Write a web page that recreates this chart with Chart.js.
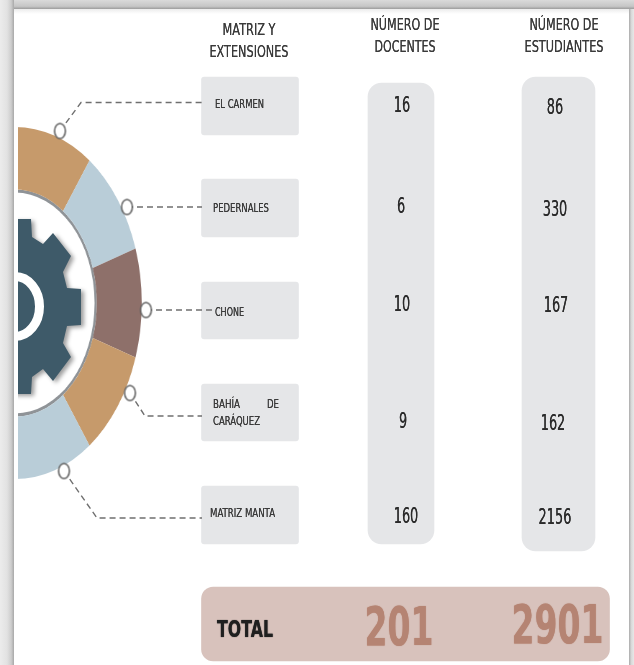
<!DOCTYPE html>
<html lang="es">
<head>
<meta charset="utf-8">
<title>Matriz y extensiones</title>
<script src="https://cdn.jsdelivr.net/npm/chart.js@4"></script>
<style>
  html, body { margin: 0; padding: 0; background: #fff; }
  #page { position: relative; width: 634px; height: 665px; overflow: hidden; background: #fff; }
  #ring { position: absolute; left: -165px; top: 123px; transform: scaleX(0.72); filter: blur(0.4px); z-index: 1; }
  #main { position: absolute; left: 0; top: 0; filter: blur(0.35px); z-index: 2; }
  .frame { position: absolute; z-index: 3; }
  #cover { left: 14px; top: 0; width: 4px; height: 665px; background: #fff; }
  #left { left: 0; top: 0; width: 14px; height: 665px; background: linear-gradient(to right, #ececec, #e2e2e2 50%, #cdcdcd 80%, #a8a8a8); }
  #top { left: 14px; top: 0; width: 620px; height: 9px; background: linear-gradient(to bottom, #dadada, #c6c6c6 70%, #9c9c9c); }
  #shade { left: 14px; top: 9px; width: 615px; height: 5px; background: linear-gradient(to bottom, #ececec, #fff); }
  #right { left: 629px; top: 9px; width: 5px; height: 656px; background: linear-gradient(to right, #aaa, #d8d8d8 45%, #e8e8e8); }
</style>
</head>
<body>
<div id="page">
  <canvas id="ring" width="360" height="360"></canvas>
  <canvas id="main" width="634" height="665"></canvas>
  <div id="cover" class="frame"></div>
  <div id="left" class="frame"></div>
  <div id="top" class="frame"></div>
  <div id="shade" class="frame"></div>
  <div id="right" class="frame"></div>
</div>
<script>
// datos
const campuses = ['EL CARMEN', 'PEDERNALES', 'CHONE', 'BAHÍA DE CARÁQUEZ', 'MATRIZ MANTA'];
const docentes = [16, 6, 10, 9, 160];
const estudiantes = [86, 330, 167, 162, 2156];
const totalDocentes = 201;
const totalEstudiantes = 2901;

// anillo: 10 porciones iguales, solo se ve la mitad derecha
const ringValues = [1, 1, 1, 1, 1, 1, 1, 1, 1, 1];
const ringColors = ['#c69a6b', '#b9cdd8', '#8e706a', '#c69a6b', '#b9cdd8', '#b9cdd8', '#c69a6b', '#8e706a', '#b9cdd8', '#c69a6b'];

// posiciones en pixeles de la imagen
const panelTop = [77, 179, 282, 384, 486];
const panelBottom = [135, 237, 339, 441, 544];
const labelX = [215, 213, 215, 213, 210];
const labelBaseline = [108, 212, 316, 408, 517];
const labelWidth = [49, 56, 29, 0, 65];
const docentesX = [402, 401, 402, 403, 406];
const docentesBaseline = [112, 213, 311, 428, 523];
const estudiantesX = [555, 555, 556, 553, 555];
const estudiantesBaseline = [114, 216, 312, 430, 524];

const leaderX = [[60, 81, 202], [127, 202], [146, 214], [130, 145, 202], [64, 97, 202]];
const leaderY = [[131, 102.5, 102.5], [207, 207], [310, 310], [393, 416, 416], [471, 518, 518]];

const gearX = [0, 31, 32, 43, 53, 71, 63, 67, 81, 81, 67, 63, 71, 53, 43, 32, 31, 0];
const gearY = [219, 219, 237, 244, 233, 256, 272, 288, 289, 325, 326, 343, 357, 381, 369, 377, 394, 394];

const xy = (xs, ys) => xs.map((x, i) => ({ x: x, y: ys[i] }));

// elipse para usar como pointStyle (la imagen original esta comprimida a lo ancho)
const ellipse = (rx, ry, fill, stroke, lineWidth) => {
  const c = document.createElement('canvas');
  c.width = Math.ceil(rx * 2 + lineWidth + 2);
  c.height = Math.ceil(ry * 2 + lineWidth + 2);
  const ctx = c.getContext('2d');
  ctx.beginPath();
  ctx.ellipse(c.width / 2, c.height / 2, rx, ry, 0, 0, Math.PI * 2);
  ctx.fillStyle = fill;
  ctx.fill();
  ctx.lineWidth = lineWidth;
  ctx.strokeStyle = stroke;
  ctx.stroke();
  return c;
};

new Chart(document.getElementById('ring'), {
  type: 'doughnut',
  data: {
    labels: ringValues.map((v, i) => 'Sector ' + (i + 1)),
    datasets: [
      { data: ringValues, backgroundColor: ringColors, borderWidth: 0, weight: 60 },
      { data: [1], backgroundColor: ['#8f9397'], borderWidth: 0, weight: 3 }
    ]
  },
  options: {
    responsive: false,
    animation: false,
    radius: 176,
    cutout: 113,
    plugins: { legend: { display: false }, tooltip: { enabled: false } }
  }
});

const gearShadow = {
  id: 'gearShadow',
  beforeDatasetsDraw(chart) {
    const { ctx, scales } = chart;
    ctx.save();
    ctx.filter = 'blur(2px)';
    ctx.fillStyle = 'rgba(0,0,0,0.38)';
    ctx.beginPath();
    gearX.forEach((x, i) => {
      ctx.lineTo(scales.x.getPixelForValue(x) + 3, scales.y.getPixelForValue(gearY[i]) + 2);
    });
    ctx.closePath();
    ctx.fill();
    ctx.restore();
  }
};

const textLayer = {
  id: 'textLayer',
  afterDraw(chart) {
    const { ctx, scales } = chart;
    const put = (text, x, y, size, width, align, color, bold) => {
      ctx.font = (bold ? 'bold ' : '') + size + 'px "DejaVu Sans"';
      ctx.textAlign = align;
      ctx.textBaseline = 'alphabetic';
      ctx.fillStyle = color;
      // sombra sin desplazamiento para engrosar el trazo comprimido
      ctx.shadowColor = color;
      ctx.shadowBlur = bold ? 1 : 0.6;
      ctx.fillText(text, scales.x.getPixelForValue(x), scales.y.getPixelForValue(y), width);
    };
    const dark = '#3a3a3a';

    ctx.save();
    put('MATRIZ Y', 249, 35, 16, 53, 'center', dark);
    put('EXTENSIONES', 249, 57, 16, 79, 'center', dark);
    put('NÚMERO DE', 405, 30, 16, 69, 'center', dark);
    put('DOCENTES', 405, 52, 16, 61, 'center', dark);
    put('NÚMERO DE', 564, 30, 16, 69, 'center', dark);
    put('ESTUDIANTES', 564, 52, 16, 79, 'center', dark);

    campuses.forEach((name, i) => {
      if (name === 'BAHÍA DE CARÁQUEZ') {
        // texto justificado en dos lineas
        put('BAHÍA', labelX[i], labelBaseline[i], 12, 27, 'left', dark);
        put('DE', 279, labelBaseline[i], 12, 12, 'right', dark);
        put('CARÁQUEZ', labelX[i], labelBaseline[i] + 17, 12, 47, 'left', dark);
      } else {
        put(name, labelX[i], labelBaseline[i], 12, labelWidth[i], 'left', dark);
      }
    });

    docentes.forEach((v, i) => {
      put(String(v), docentesX[i], docentesBaseline[i], 21, String(v).length * 8.2, 'center', '#2b2b2b');
    });
    estudiantes.forEach((v, i) => {
      put(String(v), estudiantesX[i], estudiantesBaseline[i], 21, String(v).length * 8.2, 'center', '#2b2b2b');
    });

    put('TOTAL', 217, 637, 23, 56, 'left', '#1f1f1f', true);
    put(String(totalDocentes), 399, 645, 53, 69, 'center', '#b58473', true);
    put(String(totalEstudiantes), 557.5, 643, 54, 92, 'center', '#b58473', true);
    ctx.restore();
  }
};

const panel = (data, thickness, radius, color) => ({
  type: 'bar',
  data: data,
  backgroundColor: color,
  barThickness: thickness,
  borderRadius: radius,
  borderSkipped: false,
  borderWidth: 0,
  grouped: false,
  order: 10
});

new Chart(document.getElementById('main'), {
  type: 'bar',
  data: {
    datasets: [
      panel(panelTop.map((t, i) => ({ x: 250, y: [t, panelBottom[i]] })), 97, 3, '#e5e6e8'),
      panel([{ x: 401, y: [83, 544] }], 66, 14, '#e5e6e8'),
      panel([{ x: 558.5, y: [77, 551] }], 73, 14, '#e5e6e8'),
      panel([{ x: 405.5, y: [587, 661] }], 408, 12, '#d8c2bc'),
      // engranaje
      {
        type: 'line',
        data: xy(gearX, gearY),
        borderColor: '#3e5a69',
        backgroundColor: '#3e5a69',
        borderWidth: 0,
        fill: 'shape',
        pointRadius: 0,
        tension: 0,
        order: 8
      },
      {
        type: 'scatter',
        data: [{ x: 15, y: 306.5 }],
        pointStyle: ellipse(24.5, 30, '#3e5a69', '#fff', 9),
        pointRadius: 30,
        order: 7
      },
      // lineas guia
      ...leaderX.map((xs, i) => ({
        type: 'line',
        data: xy(xs, leaderY[i]),
        borderColor: '#6f6f6f',
        borderWidth: 1.4,
        borderDash: [6, 4],
        pointRadius: 0,
        tension: 0,
        fill: false,
        order: 5
      })),
      {
        type: 'scatter',
        data: leaderX.map((xs, i) => ({ x: xs[0], y: leaderY[i][0] })),
        pointStyle: ellipse(5.4, 7.6, '#fff', '#606060', 1.5),
        pointRadius: 8,
        order: 1
      }
    ]
  },
  options: {
    responsive: false,
    animation: false,
    layout: { padding: 0, autoPadding: false },
    scales: {
      x: { type: 'linear', min: 0, max: 634, offset: false, display: false },
      y: { type: 'linear', min: 0, max: 665, reverse: true, display: false }
    },
    plugins: { legend: { display: false }, tooltip: { enabled: false } }
  },
  plugins: [gearShadow, textLayer]
});
</script>
</body>
</html>
